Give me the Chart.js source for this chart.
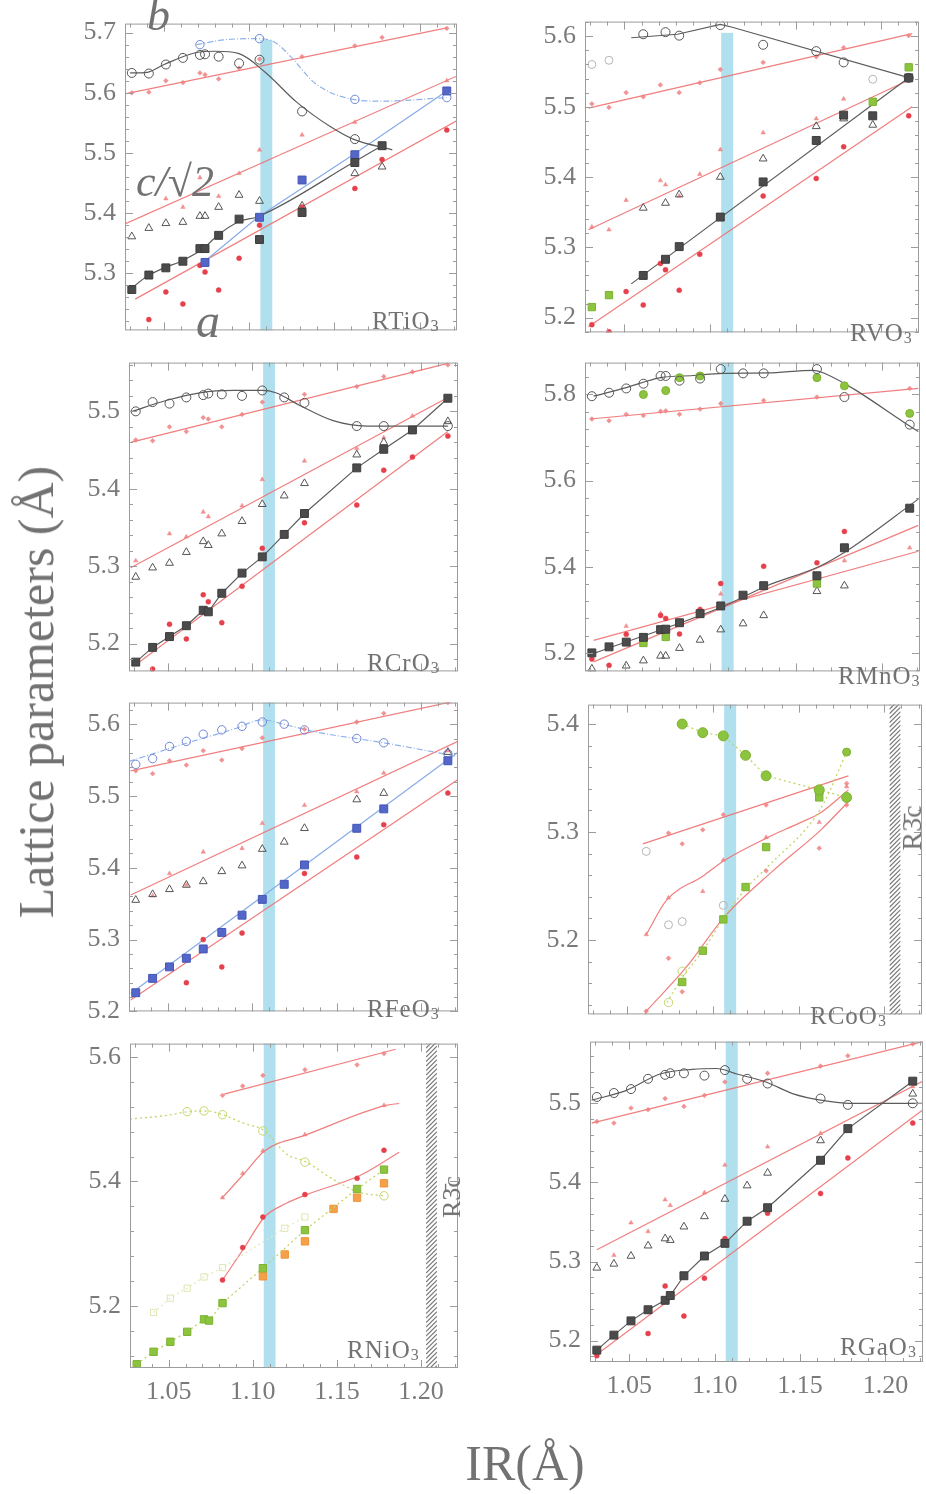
<!DOCTYPE html>
<html>
<head>
<meta charset="utf-8">
<script src="https://cdn.jsdelivr.net/npm/chart.js@4.4.1/dist/chart.umd.min.js"></script>
<style>
  body { margin: 0; background: #fff; width: 926px; height: 1494px; position: relative; overflow: hidden;
         font-family: 'Liberation Serif', 'DejaVu Serif', serif; color: #727272; }
  canvas { position: absolute; }
  .t { position: absolute; white-space: nowrap; line-height: 1; }
  .lbl { font-size: 25px; letter-spacing: 1px; }
  .lbl sub { font-size: 16px; position: relative; top: 2px; vertical-align: baseline; }
  .it { font-style: italic; }
</style>
</head>
<body>
<script>
// ionic radii (Å) of R: Lu Yb Tm Er Ho Y Dy Tb Gd Eu Sm Nd Pr Ce La
const IR = [1.031, 1.041, 1.051, 1.061, 1.071, 1.074, 1.082, 1.094, 1.106, 1.119, 1.131, 1.162, 1.178, 1.195, 1.216];
const xTicks = [1.05, 1.10, 1.15, 1.20];
const _ = null;

// RTiO3
const tiYTicks = [5.3, 5.4, 5.5, 5.6, 5.7];
const tiB = [5.633, 5.632, 5.647, 5.658, 5.663, 5.664, 5.660, 5.649, 5.655, _, 5.569, 5.523, _, _, _];
const tiC = [5.361, 5.375, 5.383, 5.385, 5.395, 5.395, 5.410, 5.430, 5.420, _, 5.412, 5.466, 5.477, _, _];
const tiA = [5.273, 5.297, 5.309, 5.320, 5.341, 5.341, 5.363, 5.390, 5.356, _, 5.401, 5.484, 5.512, _, _];
const tiBlueB = [_, _, _, _, 5.680, _, _, _, 5.690, _, _, 5.589, _, _, 5.592];
const tiBlueA = [_, _, _, _, _, 5.318, _, _, 5.393, _, 5.455, 5.497, _, _, 5.603];
const tiCalcB = [5.600, 5.601, 5.620, 5.617, 5.633, 5.630, 5.623, 5.641, 5.656, _, 5.660, 5.678, 5.692, _, 5.707];
const tiCalcC = [_, _, 5.424, 5.410, 5.459, _, 5.428, 5.466, 5.505, _, 5.530, 5.551, _, _, 5.620];
const tiCalcA = [_, 5.223, 5.269, 5.249, 5.313, 5.302, 5.272, 5.325, 5.380, _, 5.410, 5.441, 5.489, _, 5.538];
const tiBCurve = [[1.030, 5.633], [1.040, 5.634], [1.050, 5.647], [1.069, 5.667], [1.080, 5.669], [1.094, 5.665], [1.109, 5.635], [1.128, 5.584], [1.148, 5.543], [1.161, 5.523], [1.184, 5.505]];
const tiACurve = [[1.030, 5.273], [1.040, 5.295], [1.050, 5.309], [1.060, 5.320], [1.073, 5.341], [1.081, 5.362], [1.094, 5.386], [1.105, 5.394], [1.161, 5.484], [1.178, 5.512]];
const tiBlueBCurve = [[1.069, 5.680], [1.085, 5.688], [1.105, 5.690], [1.115, 5.684], [1.124, 5.661], [1.139, 5.615], [1.161, 5.589], [1.178, 5.586], [1.216, 5.592]];
const tiBlueALine = [[1.073, 5.318], [1.105, 5.393], [1.161, 5.497], [1.216, 5.603]];
const tiCalcBLine = [[1.027, 5.598], [1.216, 5.708]];
const tiCalcCLine = [[1.027, 5.382], [1.222, 5.628]];
const tiCalcALine = [[1.033, 5.257], [1.222, 5.554]];

// RVO3
const vYTicks = [5.2, 5.3, 5.4, 5.5, 5.6];
const vB = [_, _, _, 5.603, _, 5.606, 5.601, _, 5.616, _, 5.588, 5.579, 5.563, _, 5.541];
const vPale = [5.560, 5.566, _, _, _, _, _, _, _, _, _, _, _, 5.539, _];
const vC = [_, _, _, 5.356, _, 5.363, 5.375, _, 5.400, _, 5.426, 5.472, 5.483, 5.474, _];
const vA = [_, _, _, 5.260, _, 5.283, 5.301, _, 5.343, _, 5.393, 5.452, 5.488, 5.487, 5.541];
const vGreen = [5.215, 5.232, _, _, _, _, _, _, _, _, _, _, _, 5.507, 5.556];
const vCalcB = [5.504, 5.499, 5.520, 5.514, 5.531, _, 5.520, 5.534, 5.553, _, 5.563, 5.571, 5.584, _, 5.601];
const vCalcC = [5.329, 5.325, 5.367, _, 5.395, 5.389, 5.373, 5.404, 5.439, _, 5.463, 5.483, 5.511, _, 5.542];
const vCalcA = [5.190, 5.180, 5.237, 5.218, 5.277, 5.268, 5.239, 5.290, _, _, 5.373, 5.398, 5.443, _, 5.487];
const vBLine = [[1.054, 5.598], [1.081, 5.603], [1.106, 5.617], [1.113, 5.613], [1.218, 5.540]];
const vALine = [[1.054, 5.248], [1.216, 5.541]];
const vCalcBLine = [[1.029, 5.498], [1.218, 5.604]];
const vCalcCLine = [[1.029, 5.325], [1.218, 5.540]];
const vCalcALine = [[1.029, 5.187], [1.218, 5.500]];

// RCrO3
const crYTicks = [5.2, 5.3, 5.4, 5.5];
const crB = [5.500, 5.512, 5.510, 5.518, 5.521, 5.523, 5.522, 5.520, 5.527, 5.518, 5.511, 5.481, 5.481, _, 5.481];
const crC = [5.286, 5.298, 5.304, 5.318, 5.332, 5.327, 5.342, 5.358, 5.380, 5.391, 5.407, 5.444, 5.460, _, 5.487];
const crA = [5.176, 5.195, 5.209, 5.223, 5.243, 5.241, 5.265, 5.291, 5.312, 5.341, 5.368, 5.427, 5.451, 5.476, 5.517];
const crCalcB = [5.463, 5.462, 5.480, 5.474, 5.492, 5.490, 5.480, 5.496, 5.512, _, 5.522, 5.532, 5.545, 5.551, 5.560];
const crCalcC = [5.307, _, 5.342, 5.338, 5.370, 5.364, _, 5.378, 5.412, _, 5.436, 5.452, 5.466, 5.494, 5.515];
const crCalcA = [_, 5.167, 5.225, 5.206, 5.263, 5.254, 5.227, 5.274, 5.323, _, 5.356, 5.379, 5.424, 5.441, 5.468];
const crBCurve = [[1.029, 5.500], [1.049, 5.514], [1.069, 5.524], [1.089, 5.527], [1.106, 5.527], [1.114, 5.524], [1.128, 5.508], [1.148, 5.488], [1.168, 5.481], [1.216, 5.481]];
const crCalcBLine = [[1.028, 5.460], [1.216, 5.562]];
const crCalcCLine = [[1.028, 5.298], [1.216, 5.518]];
const crCalcALine = [[1.030, 5.171], [1.216, 5.474]];

// RMnO3
const mnYTicks = [5.2, 5.4, 5.6, 5.8];
const mnB = [5.796, 5.804, 5.814, 5.825, 5.843, 5.843, 5.832, 5.837, 5.859, 5.849, 5.849, 5.859, 5.794, _, 5.730];
const mnGreenB = [_, _, _, 5.800, _, 5.809, 5.839, 5.843, _, _, _, 5.839, 5.820, _, 5.756];
const mnCalcB = [5.743, 5.739, 5.754, 5.751, 5.761, 5.762, 5.754, 5.766, 5.779, _, 5.786, 5.794, _, _, 5.814];
const mnA = [5.200, 5.214, 5.225, 5.236, 5.254, 5.255, 5.270, 5.291, 5.309, 5.334, 5.356, 5.379, 5.444, _, 5.536];
const mnC = [5.163, _, 5.170, 5.182, 5.193, 5.193, 5.211, 5.230, 5.254, 5.268, 5.287, 5.343, 5.356, _, _];
const mnGreenA = [_, _, _, 5.223, _, 5.237, _, _, _, _, _, 5.361, _, _, _];
const mnCalcA = [5.186, 5.171, 5.243, _, 5.287, 5.280, 5.244, 5.301, 5.361, _, 5.401, 5.409, 5.482, _, _];
const mnCalcC = [_, _, 5.262, _, 5.292, _, _, 5.300, 5.337, _, _, _, 5.414, _, 5.444];
const mnBCurve = [[1.032, 5.796], [1.051, 5.816], [1.071, 5.839], [1.090, 5.844], [1.107, 5.849], [1.133, 5.850], [1.160, 5.856], [1.166, 5.850], [1.221, 5.714]];
const mnACurve = [[1.033, 5.200], [1.108, 5.309], [1.133, 5.356], [1.163, 5.400], [1.179, 5.436], [1.221, 5.557]];
const mnCalcBLine = [[1.030, 5.743], [1.221, 5.814]];
const mnCalcALine = [[1.032, 5.179], [1.221, 5.496]];
const mnCalcCLine = [[1.032, 5.229], [1.221, 5.436]];

// RFeO3
const feYTicks = [5.2, 5.3, 5.4, 5.5, 5.6];
const feBlueB = [5.544, 5.552, 5.569, 5.576, 5.586, _, 5.592, 5.597, 5.603, 5.600, 5.592, 5.580, 5.574, _, 5.559];
const feCalcB = [5.535, 5.531, 5.549, 5.543, 5.563, _, 5.550, 5.566, 5.581, _, 5.593, 5.603, 5.615, _, 5.630];
const feC = [5.355, 5.363, 5.370, 5.376, 5.381, _, 5.395, 5.403, 5.426, 5.436, 5.455, 5.495, 5.504, _, 5.561];
const feCalcC = [_, 5.361, 5.392, 5.376, 5.422, _, _, 5.427, 5.462, _, 5.487, 5.506, 5.532, _, 5.563];
const feBlueA = [5.226, 5.246, 5.262, 5.274, 5.287, _, 5.310, 5.334, 5.356, 5.377, 5.404, 5.455, 5.482, _, 5.549];
const feCalcA = [_, _, _, 5.240, 5.300, _, 5.262, 5.309, _, _, 5.392, 5.415, 5.460, _, 5.504];
const feBlueBCurve = [[1.027, 5.548], [1.059, 5.572], [1.089, 5.593], [1.106, 5.606], [1.120, 5.599], [1.138, 5.589], [1.178, 5.574], [1.222, 5.555]];
const feBlueALine = [[1.028, 5.225], [1.222, 5.561]];
const feCalcBLine = [[1.028, 5.535], [1.222, 5.633]];
const feCalcCLine = [[1.028, 5.362], [1.222, 5.576]];
const feCalcALine = [[1.028, 5.216], [1.222, 5.523]];

// RCoO3
const coYTicks = [5.2, 5.3, 5.4];
const coGreenB = [_, _, _, _, _, _, 5.400, 5.392, 5.389, 5.371, 5.352, 5.339, 5.332, _, _];
const coGreenA = [_, _, _, _, _, _, 5.161, 5.190, 5.219, 5.249, 5.286, 5.332, _, _, _];
const coGreenC = [_, _, _, _, _, _, _, _, _, _, _, 5.336, 5.374, _, _];
const coGreenOpen = [_, _, _, _, _, 5.142, 5.171, _, _, _, _, _, _, _, _];
const coPale = [_, _, _, 5.282, _, 5.214, 5.217, _, 5.232, _, _, _, _, _, _];
const coCalcB = [_, _, _, _, _, 5.299, 5.289, 5.302, 5.316, _, 5.325, _, 5.345, _, _];
const coCalcC = [_, _, _, 5.205, _, 5.239, _, 5.245, 5.274, _, 5.295, 5.309, 5.342, _, _];
const coCalcA = [_, _, _, 5.134, _, 5.183, 5.152, _, _, _, 5.264, 5.285, 5.325, _, _];
const coGreenACurve = [[1.073, 5.142], [1.082, 5.165], [1.094, 5.190], [1.107, 5.222], [1.120, 5.249], [1.132, 5.268], [1.163, 5.322], [1.178, 5.374]];
const coCalcBLine = [[1.059, 5.289], [1.179, 5.352]];
const coCalcCCurve = [[1.061, 5.205], [1.073, 5.237], [1.094, 5.259], [1.107, 5.274], [1.132, 5.295], [1.150, 5.308], [1.163, 5.318], [1.179, 5.339]];
const coCalcACurve = [[1.061, 5.134], [1.084, 5.174], [1.107, 5.222], [1.135, 5.264], [1.163, 5.302], [1.179, 5.328]];

// RNiO3
const niYTicks = [5.2, 5.4, 5.6];
const niCalcB = [_, _, _, _, _, _, 5.538, 5.553, 5.570, _, 5.579, 5.587, 5.605, _, _];
const niCalcC = [_, _, _, _, _, _, 5.374, 5.413, 5.449, _, 5.475, _, 5.522, _, _];
const niCalcA = [_, _, _, _, _, _, 5.242, 5.294, 5.343, _, 5.379, 5.405, 5.450, _, _];
const niGreenB = [_, _, _, 5.512, 5.513, _, 5.507, _, 5.481, _, 5.431, _, 5.377, _, _];
const niGreenA = [5.107, 5.127, 5.143, 5.159, 5.179, 5.177, 5.205, _, 5.261, _, 5.322, 5.388, 5.419, _, _];
const niPale = [_, 5.190, 5.213, 5.229, 5.247, _, 5.262, _, _, 5.325, 5.343, _, _, _, _];
const niOrangeX = [1.106, 1.119, 1.131, 1.148, 1.162, 1.178];
const niOrange = [5.248, 5.283, 5.304, 5.356, 5.374, 5.397];
const niCalcBLine = [[1.083, 5.540], [1.185, 5.612]];
const niCalcCCurve = [[1.082, 5.374], [1.095, 5.413], [1.107, 5.449], [1.132, 5.475], [1.179, 5.522], [1.187, 5.525]];
const niCalcACurve = [[1.082, 5.242], [1.095, 5.294], [1.107, 5.343], [1.120, 5.365], [1.132, 5.379], [1.164, 5.410], [1.187, 5.447]];
const niGreenBCurve = [[1.027, 5.500], [1.049, 5.506], [1.062, 5.512], [1.073, 5.513], [1.082, 5.507], [1.094, 5.494], [1.107, 5.481], [1.120, 5.444], [1.132, 5.431], [1.148, 5.403], [1.164, 5.382], [1.179, 5.377]];

// RGaO3
const gaYTicks = [5.2, 5.3, 5.4, 5.5];
const gaB = [5.508, 5.513, 5.518, 5.531, 5.536, 5.538, 5.538, 5.535, 5.542, 5.531, 5.525, 5.506, 5.498, _, 5.500];
const gaC = [5.292, 5.297, 5.307, 5.320, 5.329, 5.327, 5.344, 5.357, 5.379, 5.396, 5.412, 5.453, _, _, 5.512];
const gaA = [5.188, 5.207, 5.225, 5.239, 5.251, 5.257, 5.282, 5.307, 5.323, 5.351, 5.368, 5.428, 5.468, _, 5.528];
const gaCalcB = [5.477, 5.475, 5.494, 5.492, 5.506, _, 5.496, 5.510, 5.527, _, 5.538, 5.547, 5.560, _, 5.575];
const gaCalcC = [_, 5.308, 5.349, 5.338, 5.378, 5.371, _, 5.387, 5.422, _, 5.445, 5.462, _, _, 5.521];
const gaCalcA = [5.181, 5.169, _, 5.209, 5.269, _, 5.231, 5.279, 5.329, _, 5.361, 5.386, 5.431, _, 5.475];
const gaBCurve = [[1.028, 5.504], [1.048, 5.516], [1.068, 5.537], [1.087, 5.543], [1.101, 5.544], [1.113, 5.537], [1.130, 5.527], [1.146, 5.512], [1.165, 5.503], [1.179, 5.500], [1.222, 5.500]];
const gaCalcBLine = [[1.028, 5.475], [1.222, 5.578]];
const gaCalcCLine = [[1.031, 5.315], [1.222, 5.528]];
const gaCalcALine = [[1.030, 5.181], [1.222, 5.492]];

// shared limits
const X_MIN = 1.027, X_MAX = 1.222;
const BAND = [1.1065, 1.1135];
const HATCH = [1.203, 1.2095];

// marker / line styles
const GREY = '#555';
const RED_LINE = 'rgba(238,112,112,0.9)';
const RED_PALE = 'rgba(240,128,128,0.85)';
const RED = '#e6404c';
const BLUE = '#5566c9';
const GREEN = '#8cc43e';
const st = {
  openCirc: { pointStyle: 'circle', pointRadius: 4.5, pointBackgroundColor: 'rgba(0,0,0,0)', pointBorderColor: GREY, pointBorderWidth: 1 },
  openTri: { pointStyle: 'triangle', pointRadius: 4.5, pointBackgroundColor: 'rgba(0,0,0,0)', pointBorderColor: GREY, pointBorderWidth: 1 },
  square: { pointStyle: 'rect', pointRadius: 5.6, pointBackgroundColor: '#4b4b4b', pointBorderColor: '#3d3d3d', pointBorderWidth: 1 },
  paleCirc: { pointStyle: 'circle', pointRadius: 4, pointBackgroundColor: 'rgba(0,0,0,0)', pointBorderColor: '#b5b5b5', pointBorderWidth: 1 },
  calcB: { pointStyle: 'rectRot', pointRadius: 2.4, pointBackgroundColor: RED_PALE, pointBorderColor: RED_PALE, pointBorderWidth: 0.5 },
  calcC: { pointStyle: 'triangle', pointRadius: 2.6, pointBackgroundColor: RED_PALE, pointBorderColor: RED_PALE, pointBorderWidth: 0.5 },
  calcA: { pointStyle: 'circle', pointRadius: 2.5, pointBackgroundColor: RED, pointBorderColor: RED, pointBorderWidth: 0.5 },
  blueCirc: { pointStyle: 'circle', pointRadius: 4.2, pointBackgroundColor: 'rgba(0,0,0,0)', pointBorderColor: '#6f86d6', pointBorderWidth: 1 },
  blueSq: { pointStyle: 'rect', pointRadius: 5.6, pointBackgroundColor: BLUE, pointBorderColor: '#4456b8', pointBorderWidth: 1 },
  greenCirc: { pointStyle: 'circle', pointRadius: 5, pointBackgroundColor: GREEN, pointBorderColor: '#7db234', pointBorderWidth: 1 },
  greenSmall: { pointStyle: 'circle', pointRadius: 4, pointBackgroundColor: GREEN, pointBorderColor: '#7db234', pointBorderWidth: 1 },
  greenSq: { pointStyle: 'rect', pointRadius: 5.2, pointBackgroundColor: GREEN, pointBorderColor: '#7db234', pointBorderWidth: 1 },
  greenOpen: { pointStyle: 'circle', pointRadius: 4.2, pointBackgroundColor: 'rgba(0,0,0,0)', pointBorderColor: '#c6d66a', pointBorderWidth: 1 },
  paleSq: { pointStyle: 'rect', pointRadius: 4.4, pointBackgroundColor: 'rgba(0,0,0,0)', pointBorderColor: '#dfe6b0', pointBorderWidth: 1 },
  orangeSq: { pointStyle: 'rect', pointRadius: 5.2, pointBackgroundColor: '#f4a14a', pointBorderColor: '#ee9438', pointBorderWidth: 1 }
};
const ln = {
  black: { borderColor: '#5c5c5c', borderWidth: 1.2 },
  red: { borderColor: RED_LINE, borderWidth: 1.2 },
  blue: { borderColor: '#87abe6', borderWidth: 1.2 },
  blueDash: { borderColor: '#8fb3e8', borderWidth: 1.2, borderDash: [6, 2, 1, 2] },
  green: { borderColor: '#c4d468', borderWidth: 1.3, borderDash: [2, 3] },
  pale: { borderColor: '#e3e9bd', borderWidth: 1.2, borderDash: [2, 3] }
};

function pts(vals, style, xs) {
  const xv = xs || IR;
  const data = [];
  xv.forEach((x, i) => { if (vals[i] != null) data.push({ x: x, y: vals[i] }); });
  return Object.assign({ data: data, showLine: false }, style);
}
function joined(vals, style, lineStyle) {
  return Object.assign(pts(vals, style), { showLine: true, tension: 0 }, lineStyle);
}
function curve(pairs, style, smooth) {
  return Object.assign({
    data: pairs.map(p => ({ x: p[0], y: p[1] })), showLine: true, pointRadius: 0,
    fill: false, tension: 0, cubicInterpolationMode: smooth ? 'monotone' : 'default'
  }, style);
}

// blue stripe, hatched R-3c region, frame and inward ticks
const deco = {
  id: 'deco',
  beforeDatasetsDraw(chart, args, o) {
    const { ctx, chartArea: a, scales: { x, y } } = chart;
    ctx.save();
    const x0 = x.getPixelForValue(BAND[0]), x1 = x.getPixelForValue(BAND[1]);
    const yt = o.bandTop != null ? y.getPixelForValue(o.bandTop) : a.top;
    ctx.fillStyle = 'rgba(128,203,228,0.62)';
    ctx.fillRect(x0, yt, x1 - x0, a.bottom - yt);
    if (o.hatch) {
      const h0 = x.getPixelForValue(HATCH[0]), h1 = x.getPixelForValue(HATCH[1]);
      ctx.beginPath();
      ctx.rect(h0, a.top, h1 - h0, a.bottom - a.top);
      ctx.clip();
      ctx.beginPath();
      for (let yy = a.top - 20; yy < a.bottom + 20; yy += 4.5) {
        ctx.moveTo(h0, yy + (h1 - h0));
        ctx.lineTo(h1, yy);
      }
      ctx.strokeStyle = '#7a7a7a';
      ctx.lineWidth = 1.2;
      ctx.stroke();
    }
    ctx.restore();
  },
  afterDraw(chart, args, o) {
    const { ctx, chartArea: a, scales: { x, y } } = chart;
    ctx.save();
    ctx.strokeStyle = '#9c9c9c';
    ctx.lineWidth = 1;
    ctx.strokeRect(a.left + 0.5, a.top + 0.5, a.right - a.left - 1, a.bottom - a.top - 1);
    ctx.beginPath();
    for (let v = 1.03; v <= 1.2201; v += 0.01) {
      const px = Math.round(x.getPixelForValue(v)) + 0.5;
      const major = Math.abs(v * 100 % 5) < 0.01 || Math.abs(v * 100 % 5 - 5) < 0.01;
      const len = major ? 8 : 4;
      ctx.moveTo(px, a.bottom); ctx.lineTo(px, a.bottom - len);
      ctx.moveTo(px, a.top); ctx.lineTo(px, a.top + len);
    }
    const step = o.minor;
    const start = Math.ceil(y.min / step - 1e-6) * step;
    for (let v = start; v <= y.max + 1e-9; v += step) {
      const py = Math.round(y.getPixelForValue(v)) + 0.5;
      const major = o.ticks.some(t => Math.abs(t - v) < 1e-6);
      const len = major ? 8 : 4;
      ctx.moveTo(a.left, py); ctx.lineTo(a.left + len, py);
      ctx.moveTo(a.right, py); ctx.lineTo(a.right - len, py);
    }
    ctx.stroke();
    ctx.restore();
  }
};

const FONT = "'Liberation Serif', 'DejaVu Serif', serif";

function panel(cfg) {
  const [l, t, r, b] = cfg.box;
  const padL = 70, padR = 8, padT = 16, padB = cfg.xLabels ? 48 : 8;
  const W = r - l + padL + padR, H = b - t + padT + padB;
  const c = document.createElement('canvas');
  c.width = W; c.height = H;
  c.style.left = (l - padL) + 'px'; c.style.top = (t - padT) + 'px';
  c.style.width = W + 'px'; c.style.height = H + 'px';
  document.body.appendChild(c);
  new Chart(c, {
    type: 'scatter',
    data: { datasets: cfg.sets },
    options: {
      responsive: false, animation: false, events: [],
      layout: { padding: { top: padT, right: padR, left: 0, bottom: 0 } },
      plugins: {
        legend: { display: false }, tooltip: { enabled: false },
        deco: { bandTop: cfg.bandTop, hatch: cfg.hatch, minor: cfg.minor, ticks: cfg.yTicks }
      },
      scales: {
        x: {
          type: 'linear', min: X_MIN, max: X_MAX,
          afterFit(s) { s.height = padB; },
          afterBuildTicks(s) { s.ticks = xTicks.map(v => ({ value: v })); },
          grid: { display: false, drawTicks: false }, border: { display: false },
          ticks: { display: !!cfg.xLabels, padding: 9, autoSkip: false, maxRotation: 0,
                   color: '#7a7a7a', font: { family: FONT, size: 26 }, callback: v => v.toFixed(2) }
        },
        y: {
          type: 'linear', min: cfg.y[0], max: cfg.y[1],
          afterFit(s) { s.width = padL; },
          afterBuildTicks(s) { s.ticks = cfg.yTicks.map(v => ({ value: v })); },
          grid: { display: false, drawTicks: false }, border: { display: false },
          ticks: { padding: 9, autoSkip: false, color: '#7a7a7a', font: { family: FONT, size: 26 },
                   callback: v => v.toFixed(1) }
        }
      }
    },
    plugins: [deco]
  });
}

panel({ box: [125, 15, 457, 347], y: [5.205, 5.715], yTicks: tiYTicks, minor: 0.02, bandTop: 5.688, sets: [
  pts(tiA, st.square), pts(tiBlueA, st.blueSq), pts(tiB, st.openCirc), pts(tiBlueB, st.blueCirc), pts(tiC, st.openTri),
  pts(tiCalcA, st.calcA), pts(tiCalcB, st.calcB), pts(tiCalcC, st.calcC),
  curve(tiBCurve, ln.black, true), curve(tiACurve, ln.black, true), curve(tiBlueBCurve, ln.blueDash, true),
  curve(tiBlueALine, ln.blue), curve(tiCalcBLine, ln.red), curve(tiCalcCLine, ln.red), curve(tiCalcALine, ln.red)
] });

panel({ box: [585, 13, 919, 349], y: [5.179, 5.621], yTicks: vYTicks, minor: 0.02, bandTop: 5.605, sets: [
  pts(vA, st.square), pts(vGreen, st.greenSq), pts(vB, st.openCirc), pts(vPale, st.paleCirc), pts(vC, st.openTri),
  pts(vCalcA, st.calcA), pts(vCalcB, st.calcB), pts(vCalcC, st.calcC),
  curve(vBLine, ln.black), curve(vALine, ln.black),
  curve(vCalcBLine, ln.red), curve(vCalcCLine, ln.red), curve(vCalcALine, ln.red)
] });

panel({ box: [129, 354, 458, 688], y: [5.164, 5.563], yTicks: crYTicks, minor: 0.02, sets: [
  joined(crA, st.square, ln.black), pts(crB, st.openCirc), pts(crC, st.openTri),
  pts(crCalcA, st.calcA), pts(crCalcB, st.calcB), pts(crCalcC, st.calcC),
  curve(crBCurve, ln.black, true),
  curve(crCalcBLine, ln.red), curve(crCalcCLine, ln.red), curve(crCalcALine, ln.red)
] });

panel({ box: [585, 354, 920, 688], y: [5.157, 5.874], yTicks: mnYTicks, minor: 0.04, sets: [
  pts(mnA, st.square), pts(mnGreenA, st.greenSq), pts(mnB, st.openCirc), pts(mnGreenB, st.greenSmall), pts(mnC, st.openTri),
  pts(mnCalcA, st.calcA), pts(mnCalcB, st.calcB), pts(mnCalcC, st.calcC),
  curve(mnBCurve, ln.black, true), curve(mnACurve, ln.black, true),
  curve(mnCalcBLine, ln.red), curve(mnCalcALine, ln.red), curve(mnCalcCLine, ln.red)
] });

panel({ box: [129, 694, 458, 1028], y: [5.2, 5.63], yTicks: feYTicks, minor: 0.02, sets: [
  pts(feBlueA, st.blueSq), pts(feBlueB, st.blueCirc), pts(feC, st.openTri),
  pts(feCalcA, st.calcA), pts(feCalcB, st.calcB), pts(feCalcC, st.calcC),
  curve(feBlueBCurve, ln.blueDash, true), curve(feBlueALine, ln.blue),
  curve(feCalcBLine, ln.red), curve(feCalcCLine, ln.red), curve(feCalcALine, ln.red)
] });

panel({ box: [588, 696, 922, 1031], y: [5.131, 5.418], yTicks: coYTicks, minor: 0.02, hatch: true, sets: [
  joined(coGreenB, st.greenCirc, ln.green), pts(coGreenA, st.greenSq), pts(coGreenC, st.greenSmall),
  pts(coGreenOpen, st.greenOpen), pts(coPale, st.paleCirc),
  pts(coCalcA, st.calcB), pts(coCalcB, st.calcB), pts(coCalcC, st.calcC),
  curve(coGreenACurve, ln.green, true),
  curve(coCalcBLine, ln.red), curve(coCalcCCurve, ln.red, true), curve(coCalcACurve, ln.red, true)
] });

panel({ box: [130, 1035, 458, 1368], y: [5.101, 5.621], yTicks: niYTicks, minor: 0.04, hatch: true, xLabels: true, sets: [
  joined(niGreenA, st.greenSq, ln.green), pts(niOrange, st.orangeSq, niOrangeX), pts(niGreenB, st.greenOpen),
  pts(niPale, st.paleSq),
  pts(niCalcA, st.calcA), pts(niCalcB, st.calcB), pts(niCalcC, st.calcC),
  curve(niGreenBCurve, ln.green, true), curve(niPale.map((v, i) => [IR[i], v]).filter(p => p[1] != null), ln.pale),
  curve(niCalcBLine, ln.red), curve(niCalcCCurve, ln.red, true), curve(niCalcACurve, ln.red, true)
] });

panel({ box: [590, 1033, 923, 1362], y: [5.173, 5.578], yTicks: gaYTicks, minor: 0.02, xLabels: true, sets: [
  joined(gaA, st.square, ln.black), pts(gaB, st.openCirc), pts(gaC, st.openTri),
  pts(gaCalcA, st.calcA), pts(gaCalcB, st.calcB), pts(gaCalcC, st.calcC),
  curve(gaBCurve, ln.black, true),
  curve(gaCalcBLine, ln.red), curve(gaCalcCLine, ln.red), curve(gaCalcALine, ln.red)
] });

// text labels
function txt(html, cls, left, top, extra) {
  const d = document.createElement('div');
  d.className = 't ' + cls;
  d.innerHTML = html;
  d.style.left = left + 'px';
  d.style.top = top + 'px';
  if (extra) Object.assign(d.style, extra);
  document.body.appendChild(d);
}
const panelNames = [
  ['RTiO<sub>3</sub>', 372, 308], ['RVO<sub>3</sub>', 850, 320], ['RCrO<sub>3</sub>', 367, 650], ['RMnO<sub>3</sub>', 838, 663],
  ['RFeO<sub>3</sub>', 367, 996], ['RCoO<sub>3</sub>', 810, 1003], ['RNiO<sub>3</sub>', 347, 1337], ['RGaO<sub>3</sub>', 840, 1334]
];
panelNames.forEach(p => txt(p[0], 'lbl', p[1], p[2]));

txt('b', 'it', 147, -8, { fontSize: '46px' });
txt('c/\u221A2', 'it', 136, 160, { fontSize: '44px' });
txt('a', 'it', 196, 297, { fontSize: '48px' });

txt('R3\u0304c', '', 912, 828, { fontSize: '28px', transform: 'translate(-50%,-50%) rotate(-90deg)' });
txt('R3\u0304c', '', 452, 1197, { fontSize: '26px', transform: 'translate(-50%,-50%) rotate(-90deg)' });

txt('Lattice parameters (\u00C5)', '', 36, 692, { fontSize: '50px', transform: 'translate(-50%,-50%) rotate(-90deg)' });
txt('IR(\u00C5)', '', 525, 1463, { fontSize: '50px', transform: 'translate(-50%,-50%)' });
</script>
</body>
</html>
